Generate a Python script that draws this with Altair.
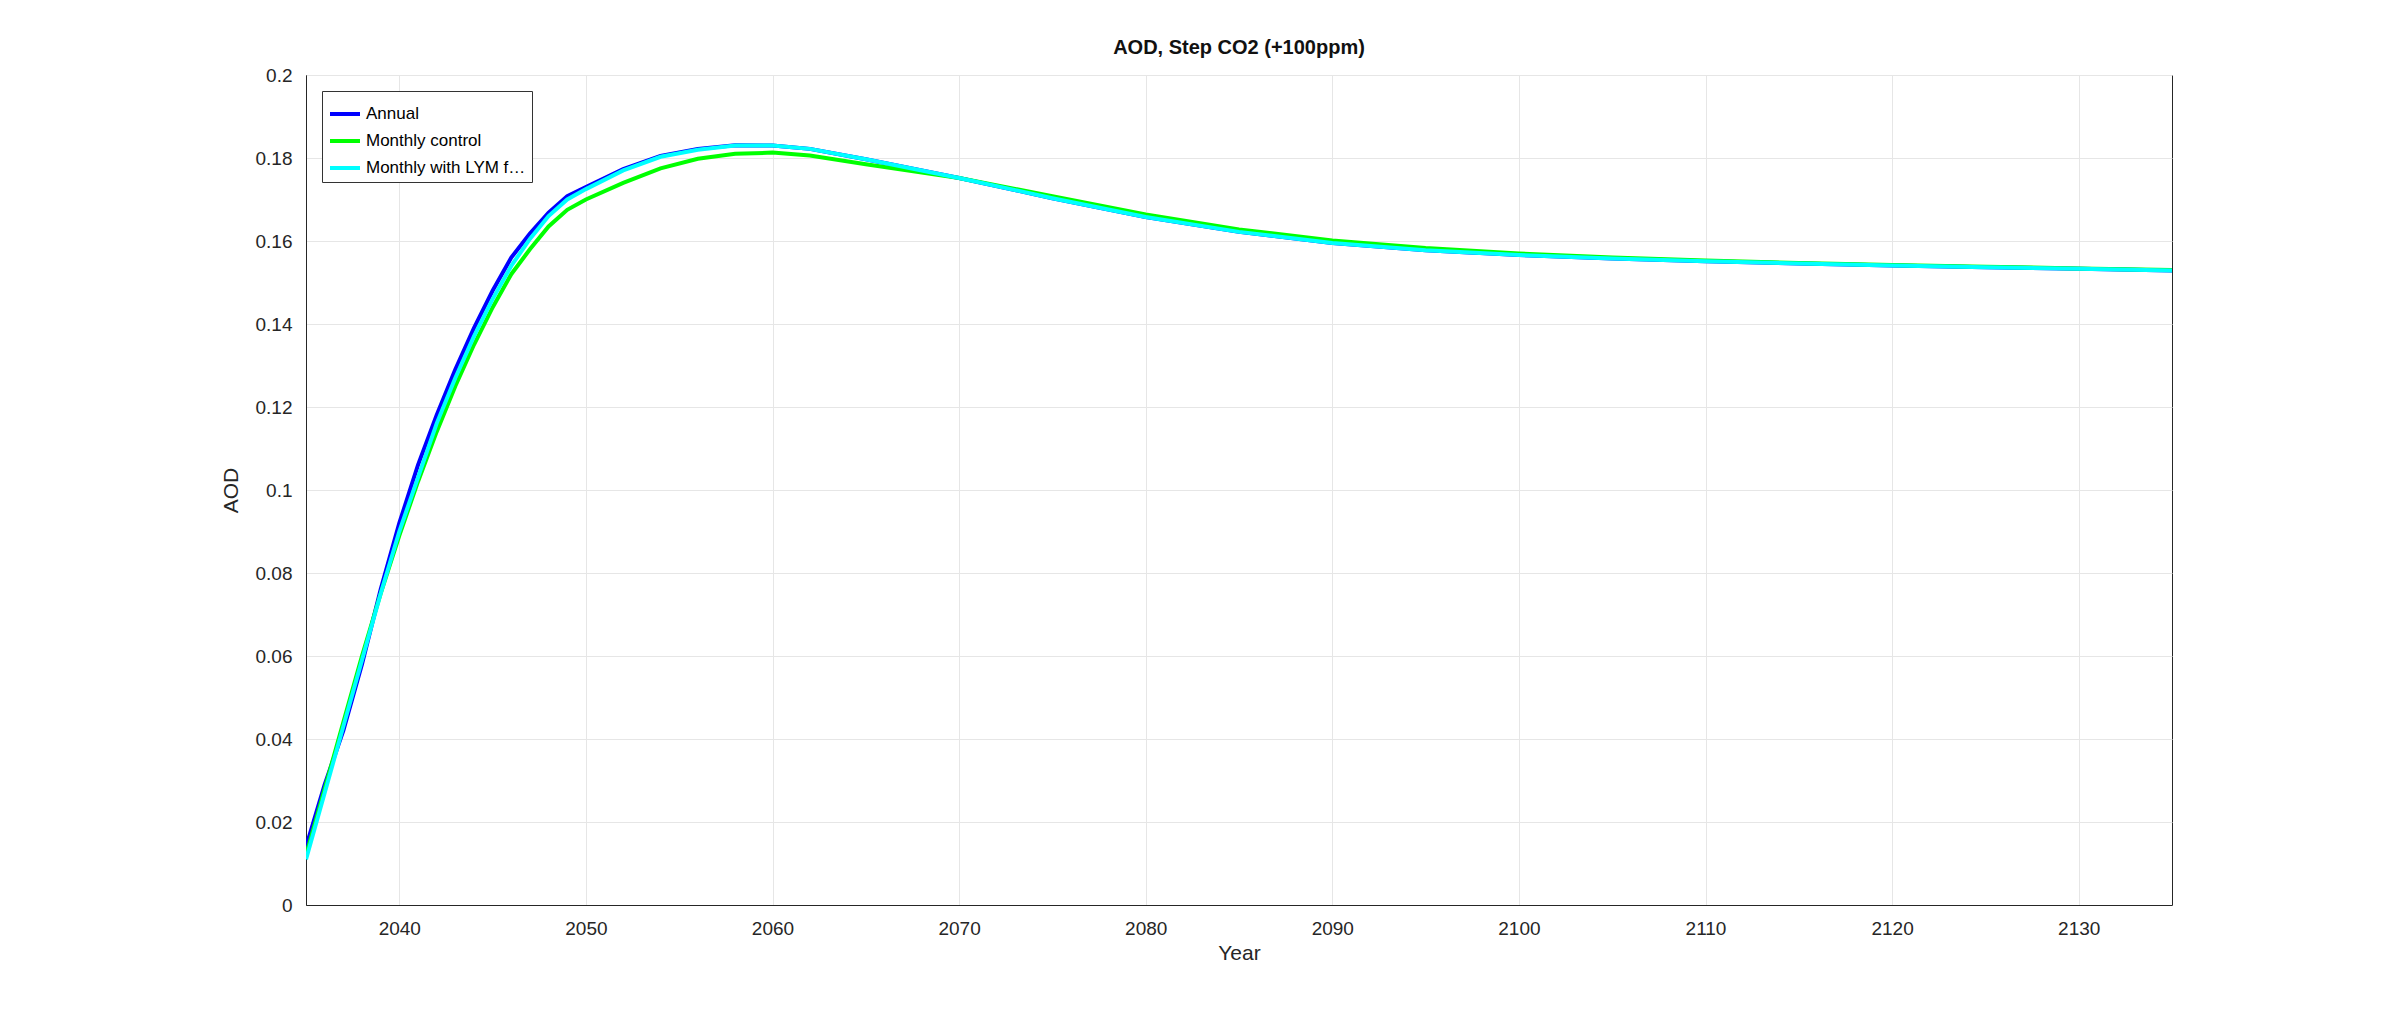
import pandas as pd
import altair as alt

years = [2035, 2036, 2037, 2038, 2039, 2040, 2041, 2042, 2043, 2044, 2045, 2046, 2047,
         2048, 2049, 2050, 2052, 2054, 2056, 2058, 2060, 2062, 2065, 2070, 2075, 2080,
         2085, 2090, 2095, 2100, 2105, 2110, 2115, 2120, 2125, 2130, 2135]

control = [0.012, 0.028, 0.044, 0.060, 0.075, 0.089, 0.102, 0.114, 0.125, 0.135, 0.144,
           0.152, 0.158, 0.1635, 0.1675, 0.1700, 0.1740, 0.1775, 0.1798, 0.1810, 0.1813,
           0.1806, 0.1785, 0.1752, 0.1708, 0.1664, 0.1628, 0.1601, 0.1583, 0.1570,
           0.1560, 0.1553, 0.1547, 0.1542, 0.1538, 0.1534, 0.1530]

lym = [0.011, 0.027, 0.043, 0.059, 0.075, 0.090, 0.103, 0.116, 0.127, 0.137, 0.146,
       0.154, 0.1605, 0.166, 0.1700, 0.1725, 0.1770, 0.1803, 0.1820, 0.1830, 0.1830,
       0.1822, 0.1797, 0.1752, 0.1703, 0.1658, 0.1622, 0.1595, 0.1578, 0.1566,
       0.1558, 0.1551, 0.1546, 0.1541, 0.1537, 0.1533, 0.1529]

annual = [0.014, 0.029, 0.042, 0.058, 0.076, 0.092, 0.106, 0.118, 0.129, 0.139, 0.148,
          0.156, 0.1618, 0.1668, 0.1708, 0.1730, 0.1773, 0.1805, 0.1822, 0.1831, 0.1830,
          0.1822, 0.1797, 0.1752, 0.1703, 0.1658, 0.1622, 0.1595, 0.1578, 0.1566,
          0.1558, 0.1551, 0.1546, 0.1541, 0.1537, 0.1533, 0.1529]

names = ["Annual", "Monthly control", "Monthly with LYM filter"]
colors = ["#0000FF", "#00FF00", "#00FFFF"]

rows = []
for i, (name, vals) in enumerate(zip(names, [annual, control, lym])):
    for yr, v in zip(years, vals):
        rows.append({"Year": yr, "AOD": v, "series": name, "order": i})
df = pd.DataFrame(rows)

font = "Liberation Sans"

chart = alt.Chart(df).mark_line(strokeWidth=4, clip=True).encode(
    x=alt.X("Year:Q", scale=alt.Scale(domain=[2035, 2135], nice=False, zero=False),
            axis=alt.Axis(values=list(range(2040, 2131, 10)), format="d", title="Year",
                          tickSize=0)),
    y=alt.Y("AOD:Q", scale=alt.Scale(domain=[0, 0.2], nice=False),
            axis=alt.Axis(values=[i / 100 for i in range(0, 21, 2)], title="AOD",
                          tickSize=0, format="~g")),
    color=alt.Color("series:N", scale=alt.Scale(domain=names, range=colors),
                    legend=alt.Legend(title=None, orient="none", legendX=16, legendY=16,
                                      symbolType="stroke", symbolStrokeWidth=4,
                                      symbolSize=900, strokeColor="#333333",
                                      fillColor="white", padding=6,
                                      labelFontSize=17, labelFont=font, rowPadding=2)),
    order=alt.Order("order:Q"),
).properties(
    width=1866, height=830,
    title=alt.Title("AOD, Step CO2 (+100ppm)", font=font, fontSize=20, fontWeight="bold",
                    color="#111111", offset=8),
    autosize=alt.AutoSizeParams(type="none"),
    padding={"left": 298, "top": 67, "right": 220, "bottom": 105},
).configure_axis(
    labelFont=font, titleFont=font, labelFontSize=19, titleFontSize=21,
    titleFontWeight="normal", labelColor="#262626", titleColor="#262626",
    gridColor="#e6e6e6", domainColor="#262626", tickColor="#262626",
    labelPadding=14,
).configure_axisY(titlePadding=14).configure_view(stroke="#262626")

chart.save("out.html", embed_options={"renderer": "svg", "actions": False})
